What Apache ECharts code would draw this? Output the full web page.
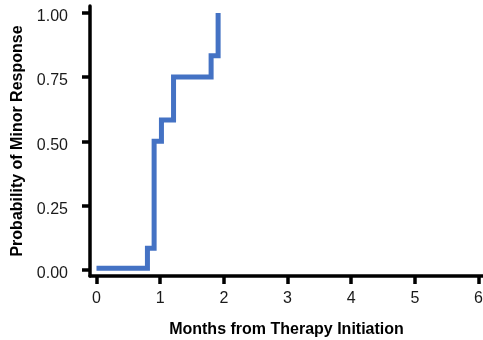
<!DOCTYPE html>
<html>
<head>
<meta charset="utf-8">
<script src="https://cdn.jsdelivr.net/npm/echarts@6/dist/echarts.min.js"></script>
<style>
  html, body { margin: 0; padding: 0; background: #fff; }
  #chart { width: 483px; height: 340px; }
</style>
</head>
<body>
<div id="chart"></div>
<script>
// Kaplan-Meier style cumulative response curve (step function)
const months = [0, 0.8, 0.905, 1.02, 1.21, 1.80, 1.91];
const probability = [0.005, 0.083, 0.5, 0.583, 0.75, 0.833, 1.0];

// Axis tick positions and labels
const xTicks = [0, 1, 2, 3, 4, 5, 6];
const yTicks = [0, 0.25, 0.5, 0.75, 1.0];

const xTitle = 'Months from Therapy Initiation';
const yTitle = 'Probability of Minor Response';

const font = 'Liberation Sans, Arial, Helvetica, sans-serif';

const chart = echarts.init(document.getElementById('chart'), null, { renderer: 'canvas' });

chart.setOption({
  animation: false,
  grid: { left: 90, right: 0, top: 6, bottom: 64, containLabel: false, outerBoundsMode: 'none' },
  xAxis: {
    type: 'value',
    min: -0.102,
    max: 6.07,
    name: xTitle,
    nameLocation: 'middle',
    nameGap: 46,
    nameTextStyle: { fontFamily: font, fontSize: 16, fontWeight: 'bold', color: '#000' },
    axisLine: { show: true, onZero: false, lineStyle: { color: '#000', width: 3.5 } },
    axisTick: { show: true, length: 8, lineStyle: { color: '#000', width: 3.5 }, customValues: xTicks },
    axisLabel: { customValues: xTicks, margin: 15, fontFamily: font, fontSize: 16, color: '#1a1a1a',
      formatter: v => String(Math.round(v)) },
    splitLine: { show: false }
  },
  yAxis: {
    type: 'value',
    min: -0.025,
    max: 1.027,
    name: yTitle,
    nameLocation: 'middle',
    nameGap: 63,
    nameRotate: 90,
    nameTextStyle: { fontFamily: font, fontSize: 16, fontWeight: 'bold', color: '#000' },
    axisLine: { show: true, onZero: false, lineStyle: { color: '#000', width: 3.5 } },
    axisTick: { show: true, length: 8, lineStyle: { color: '#000', width: 3.5 }, customValues: yTicks },
    axisLabel: { customValues: yTicks, margin: 22, fontFamily: font, fontSize: 16, color: '#1a1a1a',
      verticalAlign: 'top', lineHeight: 8,
      formatter: v => v.toFixed(2) },
    splitLine: { show: false }
  },
  series: [{
    type: 'line',
    step: 'end',
    data: months.map((m, i) => [m, probability[i]]),
    showSymbol: false,
    symbol: 'none',
    lineStyle: { color: '#4472C4', width: 5, cap: 'butt', join: 'miter' },
    clip: false
  }]
});
</script>
</body>
</html>
